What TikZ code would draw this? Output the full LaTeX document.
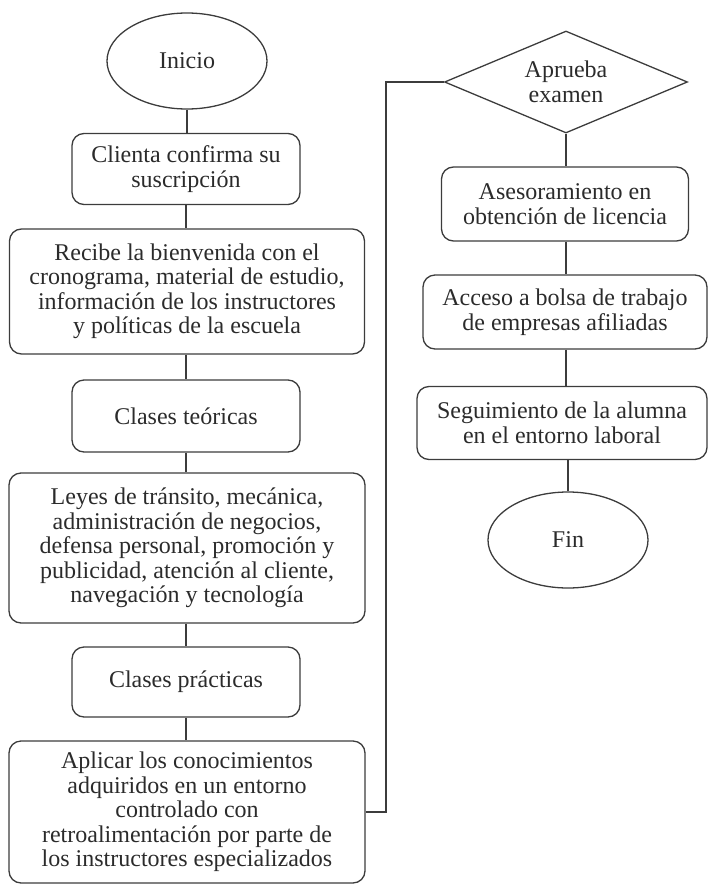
\documentclass[tikz,border=0pt]{standalone}
\usepackage{fontspec}
\setmainfont{Liberation Serif}
\usetikzlibrary{shapes.geometric}
\definecolor{ink}{HTML}{2B2B2B}
\definecolor{edge}{HTML}{3C3C3C}
\tikzset{
  every node/.style={font=\fontsize{24}{24.5}\selectfont, text=ink, align=center, inner sep=0pt},
  procbox/.style={draw=edge, line width=1.3pt, rounded corners=12pt, rectangle},
  termnode/.style={draw=edge, line width=1.3pt, ellipse, minimum width=160pt, minimum height=96pt},
  decnode/.style={draw=edge, line width=1.3pt, diamond, shape aspect=2.4, minimum width=243pt, minimum height=102pt},
  link/.style={draw=edge, line width=2pt}
}
\begin{document}
\begin{tikzpicture}[x=1pt, y=-1pt]
\useasboundingbox (0,0) rectangle (708,886);
% left column
\node[termnode] (inicio) at (187,61) {Inicio};
\node[procbox, minimum width=228pt, minimum height=71pt] (clienta) at (186,169) {Clienta confirma su\\suscripción};
\node[procbox, minimum width=355pt, minimum height=125pt] (recibe) at (187,291.5) {Recibe la bienvenida con el\\cronograma, material de estudio,\\información de los instructores\\y políticas de la escuela};
\node[procbox, minimum width=228pt, minimum height=72pt] (teoricas) at (186,416) {Clases teóricas};
\node[procbox, minimum width=356pt, minimum height=150pt] (leyes) at (187,548) {Leyes de tránsito, mecánica,\\administración de negocios,\\defensa personal, promoción y\\publicidad, atención al cliente,\\navegación y tecnología};
\node[procbox, minimum width=228pt, minimum height=70pt] (practicas) at (186,682) {Clases prácticas};
\node[procbox, minimum width=356pt, minimum height=142pt] (aplicar) at (187,812) {Aplicar los conocimientos\\adquiridos en un entorno\\controlado con\\retroalimentación por parte de\\los instructores especializados};
% right column
\node[decnode] (examen) at (566,82) {Aprueba\\examen};
\node[procbox, minimum width=247pt, minimum height=74pt] (asesor) at (565,204) {Asesoramiento en\\obtención de licencia};
\node[procbox, minimum width=284pt, minimum height=74pt] (acceso) at (565,312) {Acceso a bolsa de trabajo\\de empresas afiliadas};
\node[procbox, minimum width=290pt, minimum height=73pt] (seguim) at (562,423) {Seguimiento de la alumna\\en el entorno laboral};
\node[termnode] (fin) at (568,540) {Fin};
\coordinate (bend) at (386,0);
% connectors
\draw[link] (inicio.south) -- (inicio.south |- clienta.north);
\draw[link] (clienta.south) -- (clienta.south |- recibe.north);
\draw[link] (recibe.south -| clienta.south) -- (clienta.south |- teoricas.north);
\draw[link] (teoricas.south) -- (teoricas.south |- leyes.north);
\draw[link] (leyes.south -| teoricas.south) -- (teoricas.south |- practicas.north);
\draw[link] (practicas.south) -- (practicas.south |- aplicar.north);
\draw[link] (aplicar.east) -- (aplicar.east -| bend) -- (bend |- examen.west) -- (examen.west);
\draw[link] (examen.south) -- (examen.south |- asesor.north);
\draw[link] (asesor.south -| examen.south) -- (examen.south |- acceso.north);
\draw[link] (acceso.south -| examen.south) -- (examen.south |- seguim.north);
\draw[link] (seguim.south -| fin.north) -- (fin.north);
\end{tikzpicture}
\end{document}
